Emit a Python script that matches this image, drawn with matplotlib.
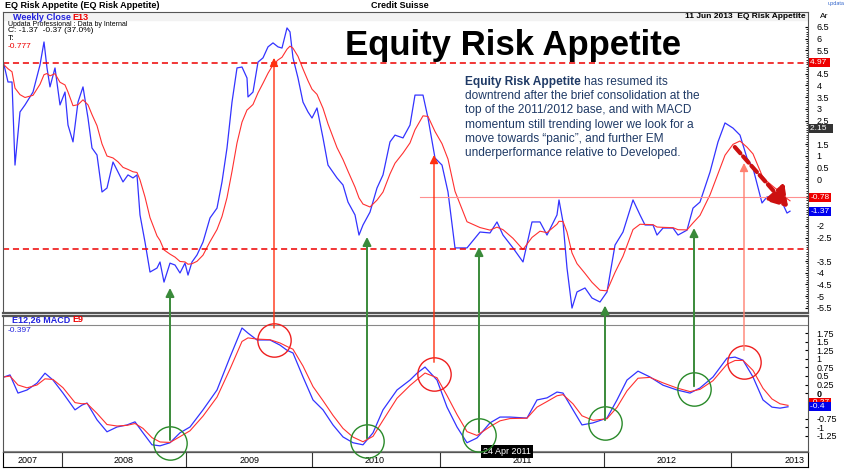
import numpy as np
import matplotlib
matplotlib.use("Agg")
import matplotlib.pyplot as plt
from matplotlib.patches import ConnectionPatch, FancyArrowPatch

plt.rcParams['font.family'] = ['Liberation Sans', 'DejaVu Sans']

# time index (chart units) and weekly close
t_close = [4,8,12,15,20,25,33,40,44,47,50,55,60,65,68,73,78,83,88,92,97,102,107,113,118,123,128,133,137,140,
           145,150,157,160,164,170,175,180,185,188,192,197,203,210,217,222,227,232,237,242,247,248,253,258,263,
           268,273,278,282,287,290,293,298,303,308,312,317,323,328,337,343,348,355,359,363,370,377,383,390,395,
           403,410,415,423,428,435,442,448,455,467,480,490,497,503,513,523,532,540,547,557,559,563,567,572,577,
           585,592,600,607,615,623,633,640,645,653,657,663,673,678,687,693,700,710,718,725,733,740,747,753,762,
           767,775,782,787,790]
close = [4.88,4.15,4.15,0.60,2.87,3.17,3.72,4.88,5.86,4.75,3.94,4.75,3.17,3.72,2.31,1.59,3.29,3.94,2.61,1.33,
         1.03,-0.55,-0.38,0.73,0.30,-0.12,0.18,0.05,0.18,-1.53,-2.69,-3.97,-3.80,-3.54,-4.40,-3.59,-3.67,-4.01,
         -3.59,-4.10,-3.54,-3.24,-2.69,-1.66,-1.24,-0.12,1.33,3.29,4.75,4.79,4.32,3.51,3.72,5.00,5.18,5.65,5.82,
         5.65,5.60,6.46,6.29,5.18,4.32,3.29,2.87,2.61,3.04,1.76,0.60,0.05,-0.25,-0.98,-1.53,-2.39,-1.96,-1.41,
         -0.38,0.18,1.59,1.88,1.76,2.31,3.59,3.59,2.61,0.90,0.60,-0.55,-2.94,-2.94,-2.26,-2.30,-1.83,-2.39,-2.94,
         -3.54,-1.83,-1.83,-2.39,-1.53,-0.89,-1.83,-3.80,-5.51,-4.82,-4.65,-5.08,-5.25,-4.82,-2.82,-2.26,-0.89,
         -1.53,-1.96,-1.96,-2.39,-2.09,-2.09,-2.39,-2.18,-1.24,-0.98,0.30,1.59,2.40,2.18,1.88,0.90,0.47,-1.02,
         -0.76,-0.81,-0.98,-1.45,-1.37]

t_macd = [4,10,18,27,37,45,53,63,75,82,87,97,107,117,127,135,143,152,160,170,180,190,203,217,230,242,248,257,
          270,280,287,293,303,313,323,333,343,353,363,373,383,397,410,417,425,437,447,457,467,477,490,500,510,527,
          537,547,557,563,573,582,593,607,617,627,638,650,663,677,690,700,713,727,735,743,753,763,772,780,788]
macd = [0.47,0.53,0.00,0.09,0.29,0.58,0.38,0.00,-0.49,-0.35,-0.29,-0.78,-1.13,-0.99,-0.93,-0.84,-1.16,-1.51,
        -1.54,-1.45,-1.16,-0.99,-0.49,0.09,1.05,1.90,1.75,1.55,1.55,1.40,1.25,1.17,0.47,-0.20,-0.49,-0.93,-1.28,
        -1.45,-1.51,-1.16,-0.49,0.09,0.38,0.58,0.76,0.38,-0.41,-0.99,-1.45,-1.31,-0.87,-0.70,-0.70,-0.73,-0.20,
        -0.14,0.03,0.00,-0.49,-0.93,-0.87,-0.73,-0.20,0.38,0.64,0.47,0.23,0.09,0.00,0.15,0.47,1.02,1.05,0.96,
        0.47,-0.20,-0.41,-0.44,-0.40]

years = ['2007','2008','2009','2010','2011','2012','2013']
year_bounds = [3,62,186,312,440,604,731,808]
year_label_pos = [28,124,250,375,522,667,795]

levels = [4.97, -2.99]
mid_level = -0.78

green_sig = [(170,-1.45,-4.65),(367,-1.40,-2.47),(479,-1.22,-2.90),(605,-0.87,-5.40),(694,0.12,-2.09)]
red_sig = [(274,1.55,5.18),(434,0.55,1.03),(744,0.90,0.69)]

para_lines = ['downtrend after the brief consolidation at the',
              'top of the 2011/2012 base, and with MACD',
              'momentum still trending lower we look for a',
              'move towards \u201cpanic\u201d, and further EM',
              'underperformance relative to Developed.']

def ema(t, v, n):
    t = np.asarray(t, float); v = np.asarray(v, float)
    out = np.empty_like(v); out[0] = v[0]
    for i in range(1, len(v)):
        dt = (t[i]-t[i-1])/2.4
        a = 1-(1-2/(n+1))**dt
        out[i] = out[i-1] + a*(v[i]-out[i-1])
    return out

e13 = ema(t_close, close, 13)
sig = ema(t_macd, macd, 9)

W, H = 848, 470
fig = plt.figure(figsize=(8.48, 4.70), dpi=100)
def rect(x0, y0, x1, y1):
    return [x0/W, 1-y1/H, (x1-x0)/W, (y1-y0)/H]

ax3 = fig.add_axes(rect(3, 452, 808, 467))
ax1 = fig.add_axes(rect(3, 12, 808, 313))
ax2 = fig.add_axes(rect(3, 316, 808, 452))
XL = (3, 808)
BLUE = '#3333ff'; RED = '#ff3030'

# top panel
ax1.plot(t_close, close, color=BLUE, lw=0.9)
ax1.plot(t_close, e13, color=RED, lw=0.8)
for lv in levels:
    ax1.axhline(lv, color='#ee0000', lw=1.1, ls=(0, (4, 2.5)))
ax1.plot([420, 808], [mid_level, mid_level], color='#ff9090', lw=0.8)
ax1.set_xlim(*XL); ax1.set_ylim(-5.72, 7.14)
ax1.axhspan(6.8, 7.14, color='#f2f2f2', zorder=0)

# bottom panel
ax2.plot(t_macd, macd, color=BLUE, lw=0.9)
ax2.plot(t_macd, sig, color=RED, lw=0.8)
ax2.set_xlim(*XL); ax2.set_ylim(-1.72, 2.25)
ax2.axhline(2.0, color='#888888', lw=0.8)
ax2.axhline(-1.70, color='#888888', lw=0.8)
ax2.patch.set_alpha(0)

for ax in (ax1, ax2):
    ax.yaxis.tick_right()
    ax.tick_params(axis='y', labelsize=6.5, length=2, pad=6, direction='in')
    ax.set_xticks([])
    for s in ax.spines.values():
        s.set_color('#555555')
ax1.spines['bottom'].set_linewidth(1.6)
ax2.spines['top'].set_linewidth(1.6)

t1 = [6.5,6,5.5,4.5,4,3.5,3,2.5,1.5,1,0.5,0,-2,-2.5,-3.5,-4,-4.5,-5,-5.5]
ax1.set_yticks(t1, [f'{v:g}' for v in t1])
ax1.set_yticks(np.arange(-5.5, 6.6, 0.1), minor=True)
ax1.tick_params(axis='y', which='minor', length=1.5, direction='in')
t2 = [1.75,1.5,1.25,1,0.75,0.5,0.25,0,-0.75,-1,-1.25]
ax2.set_yticks(t2, [f'{v:g}' for v in t2])
for lab in ax2.get_yticklabels():
    if lab.get_text() == '0':
        lab.set_fontweight('bold')

def tag(ax, y, txt, fc):
    ax.text(1.003, y, txt, transform=ax.get_yaxis_transform(), ha='left', va='center',
            fontsize=6, color='white', bbox=dict(boxstyle='square,pad=0.12', fc=fc, ec='none'), zorder=10)
tag(ax1, 4.97, '4.97 ', '#ee0000')
tag(ax1, 2.15, '2.15  ', '#333333')
tag(ax1, -0.78, '-0.78', '#ee0000')
tag(ax1, -1.37, '-1.37', '#0000ee')
tag(ax2, -0.27, '-0.27', '#ee0000')
tag(ax2, -0.4, '-0.4  ', '#0000ee')

# year band
ax3.set_xlim(*XL); ax3.set_ylim(0, 1)
ax3.set_xticks([]); ax3.set_yticks([])
for b in year_bounds[1:-1]:
    ax3.axvline(b, color='#333333', lw=0.8)
for y, p in zip(years, year_label_pos):
    ax3.text(p, 0.45, y, ha='center', va='center', fontsize=6.5)
ax2.text(507, -1.70, '24 Apr 2011', ha='center', va='center', fontsize=6.5, color='white',
         bbox=dict(boxstyle='square,pad=0.2', fc='black', ec='none'), zorder=6)

# signals
for x, ybot, ytop in green_sig:
    ax2.plot([x], [ybot], marker='o', ms=24, mfc='none', mec='#2a8a2a', mew=1.0, clip_on=False, zorder=7)
    cp = ConnectionPatch((x, ybot+0.08), (x, ytop), 'data', 'data', axesA=ax2, axesB=ax1,
                         arrowstyle='-|>,head_length=0.5,head_width=0.25', color='#3a8a3a', lw=1.4,
                         mutation_scale=10, zorder=5)
    fig.add_artist(cp)
for i, (x, ybot, ytop) in enumerate(red_sig):
    c = '#ff8070' if i == 2 else '#ff3010'
    ax2.plot([x], [ybot], marker='o', ms=24, mfc='none', mec='#ee2020', mew=1.0, clip_on=False, zorder=7)
    cp = ConnectionPatch((x, ybot+0.35), (x, ytop), 'data', 'data', axesA=ax2, axesB=ax1,
                         arrowstyle='-|>,head_length=0.5,head_width=0.25', color=c, lw=1.0,
                         mutation_scale=10, zorder=5)
    fig.add_artist(cp)

ax1.add_patch(FancyArrowPatch((733, 1.46), (790, -1.30), arrowstyle='-|>,head_length=0.8,head_width=0.5',
                              mutation_scale=14, color='#cc1010', lw=3, ls=(0, (2, 1)), zorder=6))

# texts
fig.text(345/W, 1-45/H, 'Equity Risk Appetite', fontsize=25, fontweight='bold', va='center', ha='left')
TC = '#1f3a66'; FS = 8.6; LS = 14.2
bold = fig.text(465/W, 1-82/H, 'Equity Risk Appetite', fontsize=FS, fontweight='bold', color=TC, va='center')
rend = fig.canvas.get_renderer()
bb = bold.get_window_extent(rend)
fig.text((bb.x1 + 3)/W, 1-82/H, 'has resumed its', fontsize=FS, color=TC, va='center')
for i, line in enumerate(para_lines):
    fig.text(465/W, 1-(82 + LS*(i+1))/H, line, fontsize=FS, color=TC, va='center')

fig.text(5/W, 1-6/H, 'EQ Risk Appetite (EQ Risk Appetite)', fontsize=6.5, fontweight='bold', va='center')
fig.text(400/W, 1-6/H, 'Credit Suisse', fontsize=6.5, fontweight='bold', va='center', ha='center')
fig.text(806/W, 1-16/H, '11 Jun 2013  EQ Risk Appetite', fontsize=6, fontweight='bold', va='center', ha='right')
fig.text(845/W, 1-4/H, 'updata', fontsize=4, color='#3366cc', va='center', ha='right')
fig.text(820/W, 1-16/H, 'Ar', fontsize=6, va='center')
fig.text(13/W, 1-17/H, 'Weekly Close', fontsize=6.5, fontweight='bold', color='#2222dd', va='center')
fig.text(72/W, 1-17/H, 'E13', fontsize=6.5, fontweight='bold', color='#ee0000', va='center')
fig.text(8/W, 1-24/H, 'Updata Professional : Data by Internal', fontsize=5, va='center')
fig.text(8/W, 1-31/H, 'C: -1.37  -0.37 (37.0%)', fontsize=6, va='center')
fig.text(8/W, 1-39/H, 'T:', fontsize=6, va='center')
fig.text(8/W, 1-47/H, '-0.777', fontsize=6, color='#ee0000', va='center')
fig.text(12/W, 1-320/H, 'E12,26 MACD', fontsize=6.5, fontweight='bold', color='#2222dd', va='center')
fig.text(72/W, 1-320/H, 'E9', fontsize=6.5, fontweight='bold', color='#ee0000', va='center')
fig.text(8/W, 1-330/H, '-0.397', fontsize=6, color='#2222dd', va='center')

fig.savefig('out.png', dpi=100)
